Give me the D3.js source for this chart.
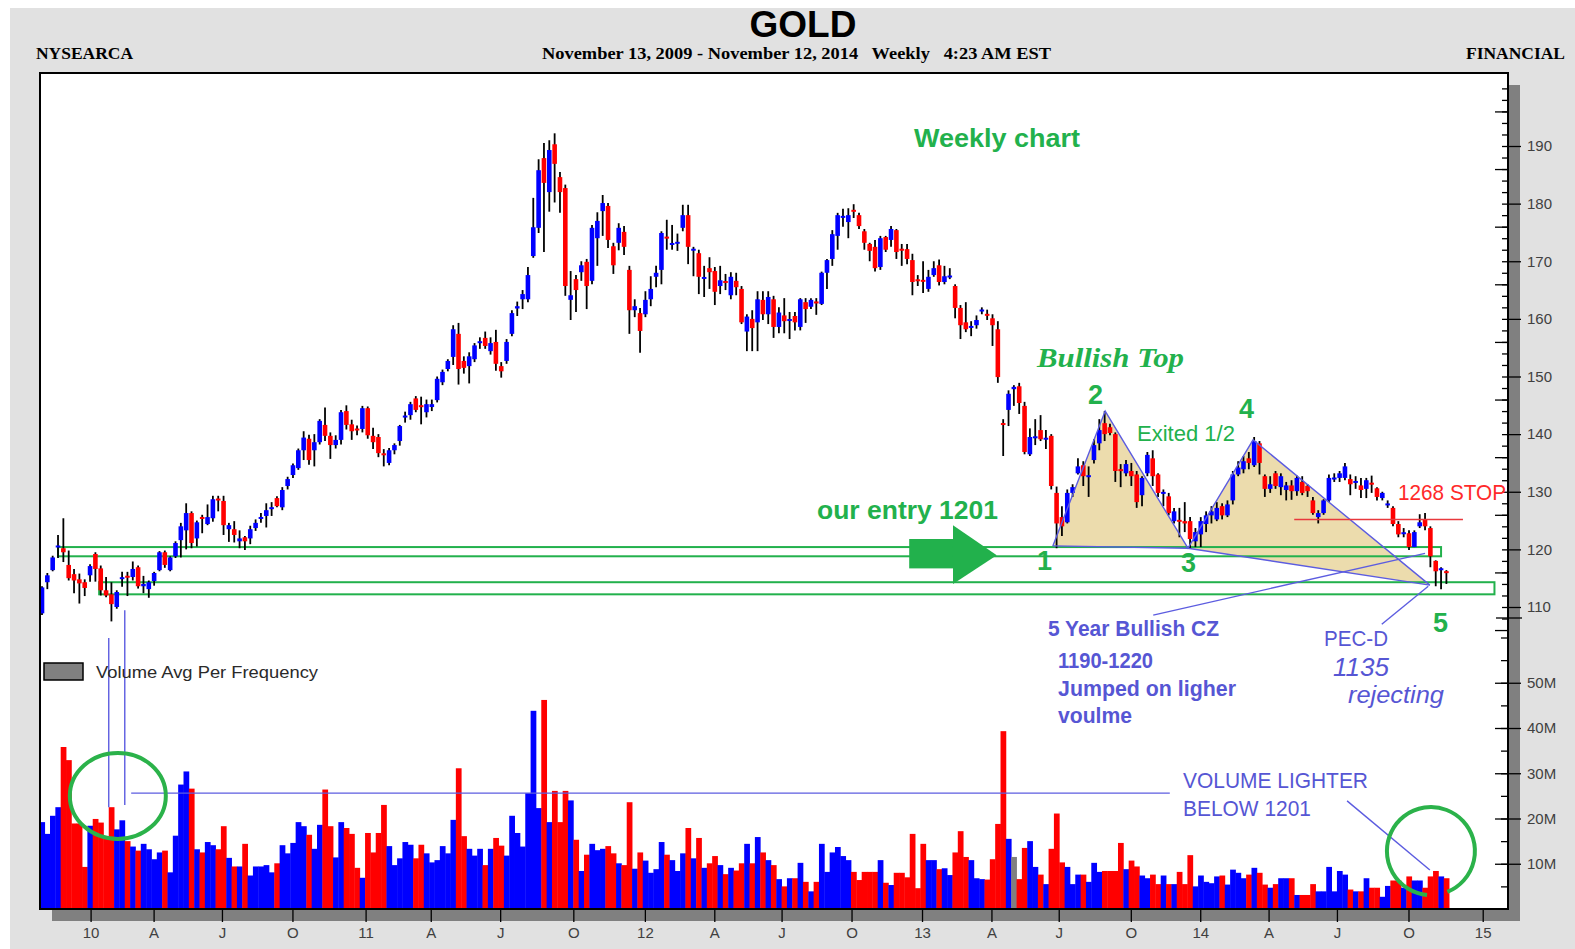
<!DOCTYPE html>
<html>
<head>
<meta charset="utf-8">
<script src="https://cdn.jsdelivr.net/npm/d3@7"></script>
<style>
body { margin: 0; background: #fff; }
svg { display: block; }
</style>
</head>
<body>
<svg id="chart" width="1575" height="949"></svg>
<script>
// Weekly candles Nov 13 2009 - Nov 14 2014 (gold / 10)
var opens = [
108.9,114.3,116.4,120.4,120.2,117.3,115.7,114.8,114.3,115.5,
119.2,116.7,112.9,112.2,110.0,114.9,115.3,115.2,116.9,113.6,
113.1,114.5,116.4,119.5,116.4,118.8,121.6,123.3,126.3,121.9,
125.6,124.4,125.4,128.8,128.4,123.5,123.5,121.4,122.1,121.9,
123.7,125.3,125.8,127.0,128.9,127.3,131.0,132.9,134.1,137.2,
139.2,137.2,138.6,141.6,139.7,138.1,139.0,144.0,141.7,140.9,
140.9,144.5,139.7,139.5,136.6,135.0,137.2,138.8,142.9,143.3,
146.2,145.0,143.8,144.7,145.9,149.0,151.3,153.4,157.4,152.7,
151.8,153.0,155.8,156.7,154.4,156.0,151.8,152.7,157.4,161.8,
163.4,163.4,170.9,175.8,187.9,182.0,190.3,184.6,182.7,163.3,
166.9,168.1,169.9,166.6,174.0,178.7,179.6,172.6,173.2,175.1,
168.5,161.5,161.0,160.8,163.4,167.3,168.5,174.2,172.9,173.1,
175.8,178.0,171.9,171.4,167.0,168.8,168.3,165.7,166.5,164.1,
166.6,165.2,157.8,160.0,159.4,163.3,160.8,163.4,158.6,160.6,
159.7,160.5,158.6,162.9,162.1,162.9,162.6,168.0,170.4,174.4,
177.6,176.8,178.9,178.0,175.2,173.0,172.5,169.0,174.2,173.7,
175.4,172.1,172.1,170.2,166.8,166.7,165.2,167.6,169.3,166.4,
167.2,165.7,161.9,159.4,158.5,158.9,161.3,160.8,160.1,158.2,
141.9,144.2,147.8,148.3,144.9,136.5,139.3,140.7,139.1,139.7,
129.8,125.6,124.7,129.8,133.2,134.6,132.6,135.5,138.4,141.9,
141.2,140.0,133.8,133.2,133.6,133.0,129.4,133.2,135.8,133.0,
129.7,129.2,124.9,125.0,124.9,124.9,121.4,122.6,124.4,125.9,
125.2,127.5,125.9,128.5,133.0,133.9,135.8,134.6,138.4,132.7,
130.5,133.2,130.8,130.3,131.1,130.1,131.7,131.0,128.5,125.6,
126.3,128.5,132.2,132.4,132.4,132.2,131.6,131.1,130.5,131.5,
130.6,128.9,127.7,127.2,124.4,122.7,122.8,120.4,124.0,125.1,
123.7,118.0,116.4,116.2];

var highs = [
113.6,115.9,118.9,122.5,125.4,119.8,116.6,115.8,114.8,117.4,
119.5,117.2,115.2,114.3,112.9,116.1,116.1,117.9,117.2,115.4,
114.6,116.1,119.7,119.8,118.8,121.4,124.6,128.0,126.6,125.0,
126.0,127.8,129.3,129.3,129.3,124.6,124.9,123.3,122.3,124.1,
125.2,126.3,128.0,128.2,129.2,130.8,132.6,134.9,137.5,140.5,
139.9,140.0,142.6,144.6,140.3,139.8,144.2,145.0,142.5,141.5,
144.9,144.8,141.1,140.0,137.4,137.6,138.4,141.6,143.9,145.6,
146.6,146.5,146.0,146.0,150.0,151.2,153.0,158.9,159.3,153.5,
154.2,155.8,156.8,157.8,156.8,158.1,152.5,156.5,161.5,163.0,
165.0,169.0,181.0,187.7,190.5,191.0,192.2,185.5,183.3,168.3,
167.6,170.0,170.4,176.3,178.5,181.5,180.1,173.2,176.6,176.1,
169.2,163.4,161.9,164.8,167.4,169.2,175.2,177.2,176.3,174.8,
179.8,179.8,172.5,172.0,169.2,170.7,169.0,169.2,167.8,168.1,
168.0,165.7,160.8,161.5,164.8,164.8,164.8,164.0,162.0,163.6,
161.2,161.2,163.6,163.6,163.6,163.6,168.2,170.4,175.4,178.4,
179.1,179.2,179.9,178.4,175.6,173.2,173.7,174.4,174.4,176.1,
175.6,173.0,173.0,171.3,167.6,170.0,168.5,170.0,170.3,169.2,
168.8,166.0,162.4,162.9,159.6,160.6,162.0,161.6,160.8,159.6,
142.6,147.6,148.5,148.9,145.6,141.0,142.6,143.3,140.7,140.0,
130.9,127.5,130.4,131.3,135.8,135.3,134.4,139.1,142.6,144.0,
141.8,140.3,134.8,135.5,135.0,133.6,132.7,136.9,137.2,133.2,
130.4,129.8,127.2,127.2,128.2,125.6,123.7,125.6,126.6,127.5,
128.2,128.0,128.5,133.6,135.3,136.2,136.9,139.5,138.8,133.0,
132.7,133.6,133.2,131.7,132.0,132.8,132.7,131.3,129.1,126.8,
128.7,133.0,133.2,133.6,135.0,133.0,132.7,132.4,132.4,132.8,
130.8,130.0,128.5,127.5,124.9,123.7,123.3,123.3,126.1,126.3,
124.0,118.1,116.9,116.4];

var lows = [
108.6,113.1,116.2,118.5,117.8,114.6,112.4,110.6,111.9,114.4,
114.4,112.0,111.7,107.5,109.7,113.5,111.9,114.6,113.2,112.4,
111.6,113.7,116.2,116.8,116.2,118.5,118.6,120.0,120.2,120.5,
122.8,124.2,124.8,126.6,122.5,121.3,121.2,120.2,119.9,120.9,
123.2,124.6,123.8,125.8,127.3,126.8,130.4,132.4,133.8,135.5,
134.7,134.4,138.2,138.8,135.7,137.5,138.2,140.8,139.0,139.8,
140.3,139.2,137.4,136.0,134.4,134.6,136.5,138.0,142.0,142.5,
143.8,141.7,142.9,144.0,145.5,148.5,150.9,152.0,148.6,150.5,
148.8,152.5,154.8,154.8,153.8,151.0,149.8,152.2,157.0,160.5,
161.7,162.9,170.6,174.9,171.6,178.6,180.2,178.4,164.0,159.8,
161.2,166.6,161.7,166.0,169.2,174.4,172.3,167.8,171.9,171.1,
157.4,160.3,154.1,160.3,162.2,165.5,166.0,172.0,172.0,171.8,
175.2,169.5,167.4,164.3,163.8,165.2,162.4,164.3,165.0,163.4,
164.1,159.1,154.4,154.4,154.4,159.8,159.1,156.7,157.5,157.5,
156.5,158.0,158.0,159.3,161.7,160.7,162.4,165.2,169.2,172.0,
176.0,174.0,177.5,175.6,172.0,170.0,168.2,168.5,171.6,172.5,
170.4,169.2,169.5,164.1,165.7,164.5,164.7,167.3,165.8,166.0,
166.9,160.1,156.5,157.7,157.0,158.3,160.8,159.8,155.3,148.9,
136.2,141.4,144.9,143.5,136.5,136.2,138.1,138.8,137.4,130.4,
120.2,122.3,124.5,129.1,133.0,131.0,129.1,134.9,137.2,138.8,
139.8,131.7,130.8,132.7,131.0,127.2,127.5,132.7,131.0,129.1,
127.5,125.9,124.5,122.1,123.0,120.2,120.4,120.4,123.0,124.5,
124.9,125.2,125.6,127.8,132.7,133.2,133.9,134.3,133.0,129.1,
129.8,130.5,129.4,128.5,128.6,129.3,129.4,129.1,126.0,124.5,
126.0,128.2,131.7,131.7,132.0,129.4,130.5,128.9,128.9,129.8,
128.5,128.5,127.2,124.0,122.1,122.1,119.9,120.4,123.7,123.3,
116.9,113.6,113.1,114.0];

var closes = [
113.4,115.5,118.6,120.6,119.5,115.0,114.6,114.1,113.3,117.1,
116.6,112.9,112.0,110.5,112.6,115.1,115.2,116.6,113.6,114.0,
114.3,115.9,119.5,117.3,118.6,121.1,124.0,126.3,121.1,124.7,
125.3,125.6,128.7,128.5,124.2,124.2,122.5,121.9,121.4,123.5,
124.6,125.6,126.8,127.3,127.5,130.3,132.2,134.6,137.2,139.4,
135.5,138.6,142.3,139.7,138.1,139.0,143.8,141.6,140.5,140.7,
144.5,139.8,138.6,136.7,136.4,137.2,138.1,141.4,143.2,145.2,
144.2,144.7,145.2,145.2,149.6,150.8,152.7,158.2,151.3,151.5,
153.5,155.4,156.1,155.3,155.8,152.2,150.9,156.0,161.0,162.2,
164.3,167.6,175.9,185.8,183.6,189.3,186.9,182.0,165.7,164.1,
165.0,169.3,165.7,175.8,177.0,180.1,173.7,169.3,175.8,172.5,
161.5,162.2,157.9,163.3,165.2,168.0,174.9,174.0,173.1,173.3,
178.0,172.5,172.1,167.3,167.2,168.1,164.7,166.7,166.3,167.3,
165.5,159.4,160.4,158.4,163.4,160.8,163.8,158.6,161.1,159.6,
159.9,159.4,163.4,161.7,163.3,162.8,168.0,170.2,174.7,178.0,
177.8,178.0,178.6,176.1,173.2,171.8,168.8,174.0,172.0,175.6,
171.6,171.9,170.4,166.4,166.6,166.5,167.3,168.8,166.4,167.4,
167.5,161.9,158.9,158.2,158.7,159.8,161.6,160.6,158.9,149.9,
141.6,147.0,148.2,145.4,136.9,139.5,139.6,139.1,139.3,131.0,
124.5,124.0,129.8,130.8,134.4,132.7,132.8,138.1,140.7,140.0,
140.2,133.6,133.7,134.8,132.7,128.2,132.4,136.4,132.7,129.8,
129.9,126.3,126.6,124.9,124.5,121.8,123.0,124.9,125.9,126.6,
127.2,125.9,127.8,133.0,134.2,135.3,135.0,138.8,135.0,130.5,
131.3,131.0,132.7,131.1,130.1,132.4,129.8,130.1,126.3,126.3,
128.5,132.4,132.4,133.2,134.4,131.3,131.8,130.3,132.0,131.3,
129.1,129.8,127.9,124.4,122.6,122.9,120.4,123.0,124.7,124.0,
118.8,116.2,116.7,115.9];

// weekly volume, millions
var volumes = [
19.2,16.6,20.6,22.5,35.8,32.9,18.9,18.9,9.3,18.4,
19.9,19.1,15.6,22.5,17.6,19.6,15.0,13.8,12.9,14.4,
13.2,11.0,12.5,12.9,8.1,16.2,27.5,30.4,26.6,13.2,
12.5,14.8,14.1,13.2,18.3,11.3,9.4,9.4,14.4,7.4,
9.4,9.4,9.7,8.1,10.1,14.1,12.3,14.6,19.2,18.3,
16.4,13.3,18.6,26.4,18.3,11.4,19.2,17.9,16.6,9.1,
6.9,16.8,12.5,16.8,23.0,13.9,9.7,11.2,14.8,14.2,
11.2,14.2,12.3,10.3,10.8,13.9,12.3,19.7,31.1,16.1,
13.3,11.8,13.3,9.7,13.3,15.7,14.0,11.8,20.6,16.8,
13.8,25.6,43.8,22.3,46.2,19.2,26.1,19.2,26.1,24.0,
15.3,8.4,12.0,14.4,13.0,13.3,13.9,12.3,10.1,9.7,
23.6,8.9,12.5,10.7,8.0,8.8,14.8,12.0,10.8,8.4,
12.3,17.9,11.2,15.7,9.1,10.1,11.7,9.7,7.7,9.1,
8.5,10.1,14.4,10.1,15.9,12.5,10.8,9.7,6.6,5.0,
6.8,6.8,10.2,6.0,3.9,6.0,14.4,8.2,12.5,13.7,
11.7,10.8,8.2,6.4,8.2,8.2,8.2,10.8,5.8,5.3,
8.0,8.0,7.0,16.6,4.6,14.4,10.8,10.8,8.8,9.0,
7.5,12.5,17.2,11.5,10.8,6.8,6.6,6.5,11.0,18.8,
39.3,15.5,11.5,6.6,13.5,15.0,9.3,7.6,5.5,13.3,
21.1,10.3,9.3,5.5,7.6,7.6,6.0,10.2,8.2,8.4,
8.4,8.4,14.6,8.8,10.7,9.4,7.4,6.8,7.6,5.5,
7.4,5.5,5.5,8.2,5.5,11.9,5.0,7.4,6.0,5.7,
7.2,7.4,5.4,8.7,8.0,6.8,7.6,9.1,8.0,5.4,
4.7,5.5,6.8,6.8,6.8,3.1,3.1,3.1,5.5,3.9,
3.9,9.3,3.9,8.4,7.6,4.3,3.9,3.9,6.8,4.7,
4.7,2.7,5.1,6.3,6.3,4.7,7.2,6.3,6.3,4.7,
7.2,8.4,7.2,6.8];
var grayVolumeWeek = 182;

// x axis ticks, in week index
var xTickIdx = [9.1, 20.9, 33.7, 46.9, 60.6, 72.8, 85.8, 99.5, 112.9, 125.9, 138.5,
                151.6, 164.8, 177.8, 190.4, 203.9, 216.9, 229.7, 242.5, 255.9, 269.8];
var xTickLabels = ["10","A","J","O","11","A","J","O","12","A","J",
                   "O","13","A","J","O","14","A","J","O","15"];
var priceTicks = [110, 120, 130, 140, 150, 160, 170, 180, 190];
var volumeTicks = [10, 20, 30, 40, 50];

// annotation geometry in (week index, price) / (week index, volume)
var zones = [
  {from: 3, to: 262, lo: 118.8, hi: 120.4},
  {from: 10.7, to: 272, lo: 112.2, hi: 114.3}
];
var pattern = [[189.3, 120.6], [199.1, 144.0], [214.6, 120.2], [226.8, 139.0], [259.9, 113.8]];
var czPointer = [[208.1, 108.6], [259.0, 119.3]];
var pecPointer = [[250.9, 107.0], [259.6, 113.6]];
var stopLine = {from: 234.5, to: 266.1, price: 125.2};
var arrowBody = {from: 162.4, to: 170.6, lo: 116.7, hi: 121.8};
var arrowHead = [[170.6, 124.2], [178.8, 119.0], [170.6, 114.0]];
var volMarkerLines = [
  [[12.5, 59.9], [12.5, 22.5]],
  [[15.5, 66.0], [15.5, 23.0]],
  [[16.7, 25.6], [211.2, 25.6]],
  [[244.4, 23.9], [259.9, 8.6]]
];
var leftEllipse = {idx: 14.2, vol: 25.0, rx: 48, ry: 43};
var rightCircle = {idx: 260.1, vol: 12.8, r: 44};

var green = "#22b14c", blueNote = "#5656d4", blueLine = "#5c5ce0";

var notes = [
  {t: "Weekly chart", x: 914, y: 147, s: 26, w: "bold", c: green, len: 166},
  {t: "Bullish Top", x: 1037, y: 367, s: 27, w: "bold", st: "italic", f: "Liberation Serif, serif", c: green, len: 147},
  {t: "2", x: 1088, y: 404, s: 27, w: "bold", c: green},
  {t: "4", x: 1239, y: 418, s: 27, w: "bold", c: green},
  {t: "Exited 1/2", x: 1137, y: 441, s: 22, w: "normal", c: green, len: 98},
  {t: "our entry 1201", x: 817, y: 519, s: 26, w: "bold", c: green, len: 181},
  {t: "1268 STOP", x: 1398, y: 500, s: 22, w: "normal", c: "#ff2a2a", len: 108},
  {t: "1", x: 1037, y: 570, s: 27, w: "bold", c: green},
  {t: "3", x: 1181, y: 572, s: 27, w: "bold", c: green},
  {t: "5", x: 1433, y: 632, s: 27, w: "bold", c: green},
  {t: "5 Year Bullish CZ", x: 1048, y: 636, s: 22, w: "bold", c: blueNote, len: 171},
  {t: "1190-1220", x: 1058, y: 668, s: 22, w: "bold", c: blueNote, len: 95},
  {t: "Jumped on ligher", x: 1058, y: 696, s: 22, w: "bold", c: blueNote, len: 178},
  {t: "voulme", x: 1058, y: 723, s: 22, w: "bold", c: blueNote, len: 74},
  {t: "PEC-D", x: 1324, y: 646, s: 22, w: "normal", c: blueNote, len: 64},
  {t: "1135", x: 1333, y: 676, s: 26, w: "normal", st: "italic", c: blueNote, len: 56},
  {t: "rejecting", x: 1348, y: 703, s: 24, w: "normal", st: "italic", c: blueNote, len: 96},
  {t: "VOLUME LIGHTER", x: 1183, y: 788, s: 22, w: "normal", c: blueNote, len: 185},
  {t: "BELOW 1201", x: 1183, y: 816, s: 22, w: "normal", c: blueNote, len: 128}
];

// ---------------------------------------------------------------
var W = 1575, H = 949;
var plot = {left: 40, top: 73, right: 1508, bottom: 909};
var n = closes.length;

var x = d3.scaleLinear().domain([0, 263]).range([42, 1446.4]);
var step = x(1) - x(0);
var yP = d3.scaleLinear().domain([110, 190]).range([607, 146]);
var yV = d3.scaleLinear().domain([0, 50]).range([plot.bottom, plot.bottom - 226.25]);

var svg = d3.select("#chart");
var sans = "Liberation Sans, Arial, sans-serif";
var serif = "Liberation Serif, Times New Roman, serif";

svg.append("rect").attr("width", W).attr("height", H).attr("fill", "#fff");
svg.append("rect").attr("x", 10).attr("y", 8).attr("width", W - 10).attr("height", H - 8).attr("fill", "#e1e1e1");

// shadow + plot frame
svg.append("rect")
  .attr("x", plot.left + 12).attr("y", plot.top + 12)
  .attr("width", plot.right - plot.left).attr("height", plot.bottom - plot.top)
  .attr("fill", "#808080");
svg.append("rect")
  .attr("x", plot.left).attr("y", plot.top)
  .attr("width", plot.right - plot.left).attr("height", plot.bottom - plot.top)
  .attr("fill", "#fff");

svg.append("clipPath").attr("id", "plotclip").append("rect")
  .attr("x", plot.left + 1).attr("y", plot.top + 1)
  .attr("width", plot.right - plot.left - 2).attr("height", plot.bottom - plot.top - 2);

var g = svg.append("g").attr("clip-path", "url(#plotclip)");

// tan fill of the bullish top pattern
[[pattern[0], pattern[1], pattern[2]], [pattern[2], pattern[3], pattern[4]]].forEach(function(tri) {
  g.append("path")
    .attr("d", "M" + tri.map(function(p) { return x(p[0]) + "," + yP(p[1]); }).join("L") + "Z")
    .attr("fill", "#ecdcad");
});

// zone boxes
g.selectAll("rect.zone").data(zones).enter().append("rect")
  .attr("class", "zone")
  .attr("x", function(d) { return x(d.from); })
  .attr("y", function(d) { return yP(d.hi); })
  .attr("width", function(d) { return x(d.to) - x(d.from); })
  .attr("height", function(d) { return yP(d.lo) - yP(d.hi); })
  .attr("fill", "none").attr("stroke", green).attr("stroke-width", 2);

// volume bars
g.selectAll("rect.vol").data(d3.range(n)).enter().append("rect")
  .attr("class", "vol")
  .attr("x", function(i) { return x(i) - step / 2; })
  .attr("width", step + 0.4)
  .attr("y", function(i) { return yV(volumes[i]); })
  .attr("height", function(i) { return yV(0) - yV(volumes[i]); })
  .attr("fill", function(i) {
    if (i === grayVolumeWeek) return "#808080";
    return closes[i] >= opens[i] ? "#0000ff" : "#ff0000";
  });

// candles
g.selectAll("line.wick").data(d3.range(n)).enter().append("line")
  .attr("x1", function(i) { return x(i); })
  .attr("x2", function(i) { return x(i); })
  .attr("y1", function(i) { return yP(highs[i]); })
  .attr("y2", function(i) { return yP(lows[i]); })
  .attr("stroke", "#000").attr("stroke-width", 1.8);

g.selectAll("rect.body").data(d3.range(n)).enter().append("rect")
  .attr("x", function(i) { return x(i) - 2.3; })
  .attr("width", 4.6)
  .attr("y", function(i) {
    var top = yP(Math.max(opens[i], closes[i]));
    var h = yP(Math.min(opens[i], closes[i])) - top;
    return h < 2 ? top - (2 - h) / 2 : top;
  })
  .attr("height", function(i) {
    return Math.max(2, Math.abs(yP(opens[i]) - yP(closes[i])));
  })
  .attr("fill", function(i) { return closes[i] >= opens[i] ? "#0000ff" : "#ff0000"; });

// pattern lines
var pline = d3.line().x(function(p) { return x(p[0]); }).y(function(p) { return yP(p[1]); });
[[pattern[0], pattern[1], pattern[2], pattern[3], pattern[4]],
 [pattern[0], pattern[2], pattern[4]],
 czPointer, pecPointer].forEach(function(pts) {
  g.append("path").attr("d", pline(pts))
    .attr("fill", "none").attr("stroke", blueLine).attr("stroke-width", 1.4);
});

var vline = d3.line().x(function(p) { return x(p[0]); }).y(function(p) { return yV(p[1]); });
volMarkerLines.forEach(function(pts) {
  g.append("path").attr("d", vline(pts))
    .attr("fill", "none").attr("stroke", blueLine).attr("stroke-width", 1.4);
});

// stop line
g.append("line")
  .attr("x1", x(stopLine.from)).attr("x2", x(stopLine.to))
  .attr("y1", yP(stopLine.price)).attr("y2", yP(stopLine.price))
  .attr("stroke", "#e8383d").attr("stroke-width", 1.5);

// green arrow
g.append("rect")
  .attr("x", x(arrowBody.from)).attr("y", yP(arrowBody.hi))
  .attr("width", x(arrowBody.to) - x(arrowBody.from))
  .attr("height", yP(arrowBody.lo) - yP(arrowBody.hi))
  .attr("fill", green);
g.append("path").attr("d", pline(arrowHead) + "Z").attr("fill", green);

// circles on volume
g.append("ellipse")
  .attr("cx", x(leftEllipse.idx)).attr("cy", yV(leftEllipse.vol))
  .attr("rx", leftEllipse.rx).attr("ry", leftEllipse.ry)
  .attr("fill", "none").attr("stroke", "#2bb24a").attr("stroke-width", 4);
var cp = d3.path();
var cx = x(rightCircle.idx), cy = yV(rightCircle.vol);
cp.moveTo(cx + rightCircle.r * Math.cos(95 * Math.PI / 180), cy + rightCircle.r * Math.sin(95 * Math.PI / 180));
cp.arc(cx, cy, rightCircle.r, 95 * Math.PI / 180, 428 * Math.PI / 180);
g.append("path").attr("d", cp.toString())
  .attr("fill", "none").attr("stroke", "#2bb24a").attr("stroke-width", 4);

// frame border
svg.append("rect")
  .attr("x", plot.left).attr("y", plot.top)
  .attr("width", plot.right - plot.left).attr("height", plot.bottom - plot.top)
  .attr("fill", "none").attr("stroke", "#000").attr("stroke-width", 2);

// ---- axes
function styleAxis(sel) {
  sel.select(".domain").remove();
  sel.selectAll("line").attr("stroke", "#000").attr("stroke-width", 1.3);
  sel.selectAll("text").attr("font-family", sans).attr("font-size", 15).attr("fill", "#404040");
}

svg.append("g").attr("transform", "translate(" + plot.right + ",0)")
  .call(d3.axisLeft(yP).tickValues(d3.range(108, 201, 2)).tickSize(6).tickFormat(""))
  .call(styleAxis);
svg.append("g").attr("transform", "translate(" + plot.right + ",0)")
  .call(d3.axisLeft(yP).tickValues(d3.range(106, 197, 10)).tickSize(13).tickFormat(""))
  .call(styleAxis);
svg.append("g").attr("transform", "translate(" + plot.right + ",0)")
  .call(d3.axisRight(yP).tickValues(priceTicks).tickSize(13).tickPadding(6).tickFormat(d3.format("d")))
  .call(styleAxis);

svg.append("g").attr("transform", "translate(" + plot.right + ",0)")
  .call(d3.axisLeft(yV).tickValues(d3.range(5, 61, 5)).tickSize(7).tickFormat(""))
  .call(styleAxis);
svg.append("g").attr("transform", "translate(" + plot.right + ",0)")
  .call(d3.axisLeft(yV).tickValues(volumeTicks).tickSize(13).tickFormat(""))
  .call(styleAxis);
svg.append("g").attr("transform", "translate(" + plot.right + ",0)")
  .call(d3.axisRight(yV).tickValues(volumeTicks).tickSize(13).tickPadding(6).tickFormat(function(d) { return d + "M"; }))
  .call(styleAxis);

// panel separator tick
svg.append("line").attr("x1", plot.right - 12).attr("x2", plot.right + 14)
  .attr("y1", 618).attr("y2", 618).attr("stroke", "#000").attr("stroke-width", 1.3);

svg.append("g").attr("transform", "translate(0," + plot.bottom + ")")
  .call(d3.axisBottom(x).tickValues(xTickIdx).tickSize(13).tickPadding(5)
    .tickFormat(function(d, i) { return xTickLabels[i]; }))
  .call(styleAxis);

// ---- header
svg.append("text").attr("x", 803).attr("y", 37).attr("text-anchor", "middle")
  .attr("font-family", sans).attr("font-weight", "bold").attr("font-size", 37)
  .text("GOLD");
svg.append("text").attr("x", 542).attr("y", 59)
  .attr("font-family", serif).attr("font-weight", "bold").attr("font-size", 17)
  .attr("textLength", 509).attr("lengthAdjust", "spacingAndGlyphs")
  .attr("xml:space", "preserve")
  .text("November 13, 2009 - November 12, 2014   Weekly   4:23 AM EST");
svg.append("text").attr("x", 36).attr("y", 59)
  .attr("font-family", serif).attr("font-weight", "bold").attr("font-size", 17)
  .attr("textLength", 97).attr("lengthAdjust", "spacingAndGlyphs")
  .text("NYSEARCA");
svg.append("text").attr("x", 1466).attr("y", 59)
  .attr("font-family", serif).attr("font-weight", "bold").attr("font-size", 17)
  .attr("textLength", 99).attr("lengthAdjust", "spacingAndGlyphs")
  .text("FINANCIAL");

// legend
svg.append("rect").attr("x", 44).attr("y", 663).attr("width", 39).attr("height", 17)
  .attr("fill", "#808080").attr("stroke", "#000").attr("stroke-width", 1.5);
svg.append("text").attr("x", 96).attr("y", 678)
  .attr("font-family", sans).attr("font-size", 17).attr("fill", "#2a2a2a")
  .attr("textLength", 222).attr("lengthAdjust", "spacingAndGlyphs")
  .text("Volume Avg Per Frequency");

// annotations
notes.forEach(function(d) {
  var t = svg.append("text").attr("x", d.x).attr("y", d.y)
    .attr("font-family", d.f || sans).attr("font-size", d.s)
    .attr("font-weight", d.w).attr("font-style", d.st || "normal")
    .attr("fill", d.c).text(d.t);
  if (d.len) t.attr("textLength", d.len).attr("lengthAdjust", "spacingAndGlyphs");
});
</script>
</body>
</html>
